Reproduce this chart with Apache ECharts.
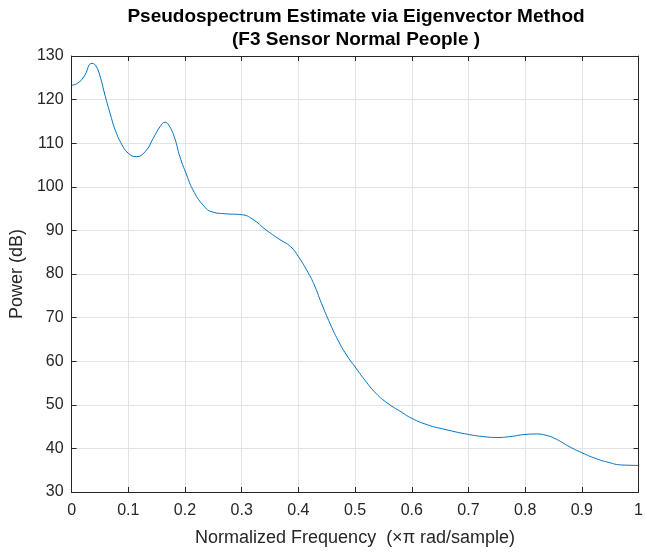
<!DOCTYPE html>
<html>
<head>
<meta charset="utf-8">
<script src="https://cdn.jsdelivr.net/npm/echarts@6/dist/echarts.min.js"></script>
<style>
  html, body { margin: 0; padding: 0; background: #fff; overflow: hidden; }
  #chart { width: 646px; height: 552px; }
</style>
</head>
<body>
<div id="chart"></div>
<script>
// Normalized frequency (×π rad/sample) and pseudospectrum power (dB)
const freq = [0, 0.01, 0.0215, 0.036, 0.042, 0.0496, 0.0595, 0.068, 0.077, 0.089, 0.1, 0.114,
  0.13, 0.144, 0.156, 0.165, 0.173, 0.182, 0.191, 0.203, 0.214, 0.232, 0.249, 0.273, 0.3,
  0.319, 0.343, 0.366, 0.386, 0.4, 0.415, 0.427, 0.441, 0.456, 0.47, 0.485, 0.5, 0.517,
  0.537, 0.558, 0.581, 0.6, 0.628, 0.657, 0.7, 0.727, 0.75, 0.773, 0.8, 0.82, 0.837, 0.855,
  0.878, 0.9, 0.924, 0.947, 0.97, 1.0];
const power = [123.3, 123.7, 125.2, 128.3, 127.9, 125.6, 120.7, 116.8, 113.0, 109.6, 107.7, 106.9,
  108.1, 111.1, 113.8, 114.8, 113.8, 111.1, 106.9, 102.7, 99.3, 95.8, 94.2, 93.8, 93.6,
  92.6, 90.1, 88.0, 86.3, 84.0, 80.8, 77.8, 73.2, 68.6, 64.8, 61.4, 58.7, 55.7,
  52.6, 50.3, 48.4, 46.9, 45.4, 44.4, 43.2, 42.7, 42.5, 42.7, 43.2, 43.3, 43.0, 42.1,
  40.4, 39.0, 37.7, 36.8, 36.2, 36.1];

const titleLines = ['Pseudospectrum Estimate via Eigenvector Method', '(F3 Sensor Normal People )'];
const xLabel = 'Normalized Frequency  (\u00D7\u03C0 rad/sample)';
const yLabel = 'Power (dB)';

const axisColor = '#262626';
const gridColor = '#e3e3e3';
const font = 'Liberation Sans, Arial, Helvetica, sans-serif';

const chart = echarts.init(document.getElementById('chart'), null, { renderer: 'canvas', width: 646, height: 552 });

const baseX = {
  type: 'value', min: 0, max: 1, interval: 0.1,
  axisLine: { show: true, onZero: false, lineStyle: { color: axisColor, width: 1 } },
  axisTick: { show: true, inside: true, length: 5, lineStyle: { color: axisColor } },
};
const baseY = {
  type: 'value', min: 30, max: 130, interval: 10,
  axisLine: { show: true, onZero: false, lineStyle: { color: axisColor, width: 1 } },
  axisTick: { show: true, inside: true, length: 5, lineStyle: { color: axisColor } },
};

chart.setOption({
  animation: false,
  backgroundColor: '#ffffff',
  title: {
    text: titleLines.join('\n'),
    left: 356, top: 5, padding: 0, textAlign: 'center',
    textStyle: { fontFamily: font, fontSize: 19, fontWeight: 'bold', color: '#000', lineHeight: 23 }
  },
  grid: { left: 71, right: 3, top: 56, bottom: 60, containLabel: false },
  xAxis: [
    Object.assign({}, baseX, {
      position: 'bottom',
      name: xLabel, nameLocation: 'middle', nameGap: 37,
      nameTextStyle: { fontFamily: font, fontSize: 18, color: axisColor },
      axisLabel: { show: true, margin: 11, fontFamily: font, fontSize: 16, color: axisColor,
        formatter: v => String(+v.toFixed(1)) },
      splitLine: { show: true, lineStyle: { color: gridColor, width: 1 } }
    }),
    Object.assign({}, baseX, {
      position: 'top',
      axisLabel: { show: false },
      splitLine: { show: false }
    })
  ],
  yAxis: [
    Object.assign({}, baseY, {
      position: 'left',
      name: yLabel, nameLocation: 'middle', nameGap: 41, nameRotate: 90,
      nameTextStyle: { fontFamily: font, fontSize: 18, color: axisColor },
      axisLabel: { show: true, margin: 8, fontFamily: font, fontSize: 16, color: axisColor },
      splitLine: { show: true, lineStyle: { color: gridColor, width: 1 } }
    }),
    Object.assign({}, baseY, {
      position: 'right',
      axisLabel: { show: false },
      splitLine: { show: false }
    })
  ],
  series: [{
    type: 'line',
    xAxisIndex: 0, yAxisIndex: 0,
    data: freq.map((f, i) => [f, power[i]]),
    smooth: 0.5,
    showSymbol: false,
    lineStyle: { color: '#0072BD', width: 1 },
    z: 5
  }]
});
</script>
</body>
</html>
